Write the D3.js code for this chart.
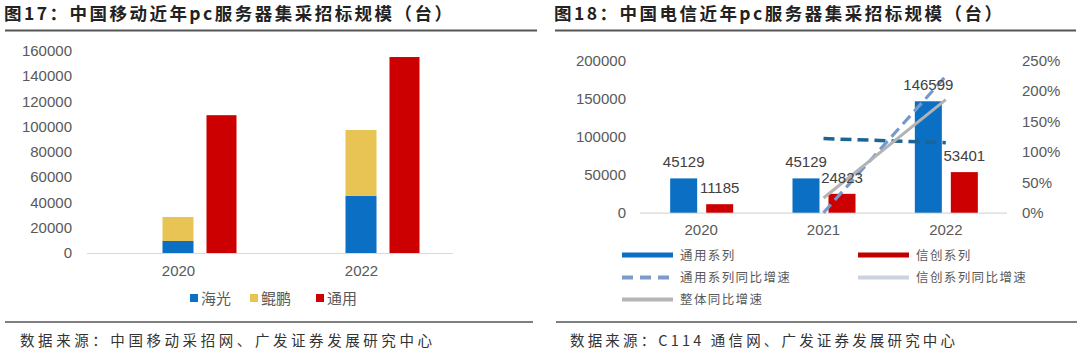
<!DOCTYPE html>
<html><head><meta charset="utf-8">
<script src="https://cdn.jsdelivr.net/npm/d3@7"></script>
<style>
body{margin:0;background:#fff;}
svg{display:block;}
</style></head>
<body>
<svg id="c" width="1080" height="355"></svg>
<script>
// ---- Data: 图17 中国移动 ----
const mobileYears = ["2020", "2022"];
const mobileHaiguang = [9500, 45300];
const mobileKunpeng = [19000, 52000];
const mobileGeneral = [109000, 155000];
const mobileTicks = [0, 20000, 40000, 60000, 80000, 100000, 120000, 140000, 160000];

// ---- Data: 图18 中国电信 ----
const telecomYears = ["2020", "2021", "2022"];
const telecomGeneral = [45129, 45129, 146599];
const telecomXinchuang = [11185, 24823, 53401];
const telecomGeneralYoY = [null, 0.0, 2.248];
const telecomXinchuangYoY = [null, 1.219, 1.151];
const telecomTotalYoY = [null, 0.242, 1.859];
const telecomLeftTicks = [0, 50000, 100000, 150000, 200000];
const telecomRightTicks = [0, 0.5, 1.0, 1.5, 2.0, 2.5];

const svg = d3.select("#c");
const NUM = "'Liberation Sans', Arial, 'Noto Sans CJK SC', sans-serif";
const CJK = "'Noto Sans CJK SC', sans-serif";
const BLUE = "#0b6fc4", YELLOW = "#e8c454", RED = "#cc0000";
const TXT = "#595959";

// ---------- Titles & rules ----------
function title(x, t, len) {
  svg.append("text").attr("x", x).attr("y", 20)
    .attr("font-family", CJK).attr("font-weight", "bold").attr("font-size", 17.5)
    .attr("textLength", len).attr("fill", "#222").text(t);
}
title(4, "图17：中国移动近年pc服务器集采招标规模（台）", 448);
title(554, "图18：中国电信近年pc服务器集采招标规模（台）", 448);
svg.append("line").attr("x1", 5).attr("x2", 537).attr("y1", 30.5).attr("y2", 30.5).attr("stroke", "#555").attr("stroke-width", 2);
svg.append("line").attr("x1", 555).attr("x2", 1076).attr("y1", 30.5).attr("y2", 30.5).attr("stroke", "#555").attr("stroke-width", 2);
svg.append("line").attr("x1", 5).attr("x2", 533).attr("y1", 322).attr("y2", 322).attr("stroke", "#555").attr("stroke-width", 1.5);
svg.append("line").attr("x1", 556).attr("x2", 1077).attr("y1", 322).attr("y2", 322).attr("stroke", "#555").attr("stroke-width", 1.5);
svg.append("text").attr("x", 20).attr("y", 346).attr("font-family", CJK).attr("font-size", 14.5).attr("fill", "#333")
  .attr("textLength", 412).text("数据来源：中国移动采招网、广发证券发展研究中心");
svg.append("text").attr("x", 570).attr("y", 346).attr("font-family", CJK).attr("font-size", 14.5).attr("fill", "#333")
  .attr("textLength", 385).text("数据来源：C114 通信网、广发证券发展研究中心");

// ---------- Chart 1 ----------
{
  const x = d3.scaleBand().domain(mobileYears).range([87, 453]);
  const y = d3.scaleLinear().domain([0, 160000]).range([253, 50.7]);
  const g = svg.append("g");
  const yAxis = d3.axisLeft(y).tickValues(mobileTicks).tickSize(0).tickPadding(0).tickFormat(d3.format("d"));
  const ya = g.append("g").attr("transform", "translate(72,0)").call(yAxis);
  ya.select(".domain").remove();
  ya.selectAll("text").attr("font-family", NUM).attr("font-size", 15).attr("fill", TXT);
  g.append("line").attr("x1", 87).attr("x2", 453).attr("y1", y(0) + 0.5).attr("y2", y(0) + 0.5).attr("stroke", "#d9d9d9").attr("stroke-width", 1.2);
  const xa = g.append("g").attr("transform", `translate(0,${y(0)})`).call(d3.axisBottom(x).tickSize(0).tickPadding(12));
  xa.select(".domain").remove();
  xa.selectAll("text").attr("font-family", NUM).attr("font-size", 15).attr("fill", TXT);

  const c = d => x(d) + x.bandwidth() / 2;
  mobileYears.forEach((yr, i) => {
    const hg = mobileHaiguang[i], kp = mobileKunpeng[i], gen = mobileGeneral[i];
    g.append("rect").attr("x", c(yr) - 16).attr("width", 31).attr("y", y(hg)).attr("height", y(0) - y(hg)).attr("fill", BLUE);
    g.append("rect").attr("x", c(yr) - 16).attr("width", 31).attr("y", y(hg + kp)).attr("height", y(hg) - y(hg + kp)).attr("fill", YELLOW);
    g.append("rect").attr("x", c(yr) + 28).attr("width", 30).attr("y", y(gen)).attr("height", y(0) - y(gen)).attr("fill", RED);
  });
  const leg = [["海光", BLUE, 190], ["鲲鹏", YELLOW, 250], ["通用", RED, 316]];
  leg.forEach(([t, col, lx]) => {
    g.append("rect").attr("x", lx).attr("y", 294).attr("width", 8).attr("height", 8).attr("fill", col);
    g.append("text").attr("x", lx + 11).attr("y", 303.5).attr("font-family", CJK).attr("font-size", 15).attr("fill", TXT).text(t);
  });
}

// ---------- Chart 2 ----------
{
  const x = d3.scaleBand().domain(telecomYears).range([640, 1007]);
  const y = d3.scaleLinear().domain([0, 200000]).range([212.7, 60.7]);
  const y2 = d3.scaleLinear().domain([0, 2.5]).range([212.7, 60.7]);
  const g = svg.append("g");
  const ya = g.append("g").attr("transform", "translate(626,0)")
    .call(d3.axisLeft(y).tickValues(telecomLeftTicks).tickSize(0).tickPadding(0).tickFormat(d3.format("d")));
  ya.select(".domain").remove();
  ya.selectAll("text").attr("font-family", NUM).attr("font-size", 15).attr("fill", TXT);
  const yb = g.append("g").attr("transform", "translate(1022,0)")
    .call(d3.axisRight(y2).tickValues(telecomRightTicks).tickSize(0).tickPadding(0).tickFormat(d3.format(".0%")));
  yb.select(".domain").remove();
  yb.selectAll("text").attr("font-family", NUM).attr("font-size", 15).attr("fill", TXT);
  g.append("line").attr("x1", 640).attr("x2", 1007).attr("y1", y(0) + 0.5).attr("y2", y(0) + 0.5).attr("stroke", "#d9d9d9").attr("stroke-width", 1.2);
  const xa = g.append("g").attr("transform", `translate(0,${y(0)})`).call(d3.axisBottom(x).tickSize(0).tickPadding(12));
  xa.select(".domain").remove();
  xa.selectAll("text").attr("font-family", NUM).attr("font-size", 15).attr("fill", TXT);

  const c = d => x(d) + x.bandwidth() / 2;
  telecomYears.forEach((yr, i) => {
    const a = telecomGeneral[i], b = telecomXinchuang[i];
    g.append("rect").attr("x", c(yr) - 31).attr("width", 27).attr("y", y(a)).attr("height", y(0) - y(a)).attr("fill", BLUE);
    g.append("rect").attr("x", c(yr) + 5).attr("width", 27).attr("y", y(b)).attr("height", y(0) - y(b)).attr("fill", RED);
  });
  // lines
  const pts = arr => telecomYears.map((yr, i) => [c(yr), arr[i]]).filter(p => p[1] !== null);
  const line = d3.line().x(p => p[0]).y(p => y2(p[1]));
  g.append("path").attr("d", line(pts(telecomXinchuangYoY))).attr("fill", "none").attr("stroke", "#1c6494").attr("stroke-width", 3.5).attr("stroke-dasharray", "11,6");
  g.append("path").attr("d", line(pts(telecomGeneralYoY))).attr("fill", "none").attr("stroke", "#7499cc").attr("stroke-width", 3.2).attr("stroke-dasharray", "11,6");
  g.append("path").attr("d", line(pts(telecomTotalYoY))).attr("fill", "none").attr("stroke", "#b3b3b3").attr("stroke-width", 3);

  // data labels
  telecomYears.forEach((yr, i) => {
    const a = telecomGeneral[i], b = telecomXinchuang[i];
    g.append("text").attr("x", c(yr) - 17.5).attr("y", y(a) - 11).attr("text-anchor", "middle")
      .attr("font-family", NUM).attr("font-size", 15).attr("fill", "#404040").text(a);
    g.append("text").attr("x", c(yr) + 18.5).attr("y", y(b) - 11).attr("text-anchor", "middle")
      .attr("font-family", NUM).attr("font-size", 15).attr("fill", "#404040").text(b);
  });

  // legend
  const legItems = [
    ["通用系列", 622, 255, {stroke: BLUE, w: 5}],
    ["信创系列", 858, 255, {stroke: "#c00000", w: 5}],
    ["通用系列同比增速", 622, 277.5, {stroke: "#7c9bc8", w: 4, dash: "11,7"}],
    ["信创系列同比增速", 858, 277.5, {stroke: "#ccd3e0", w: 4}],
    ["整体同比增速", 622, 299.5, {stroke: "#b5b5b5", w: 4}]
  ];
  legItems.forEach(([t, lx, ly, s]) => {
    const l = g.append("line").attr("x1", lx).attr("x2", lx + 51).attr("y1", ly).attr("y2", ly)
      .attr("stroke", s.stroke).attr("stroke-width", s.w);
    if (s.dash) l.attr("stroke-dasharray", s.dash);
    g.append("text").attr("x", lx + 58).attr("y", ly + 4.5).attr("font-family", CJK).attr("font-size", 12.5)
      .attr("letter-spacing", 1.4).attr("fill", TXT).text(t);
  });
}
</script>
</body></html>
